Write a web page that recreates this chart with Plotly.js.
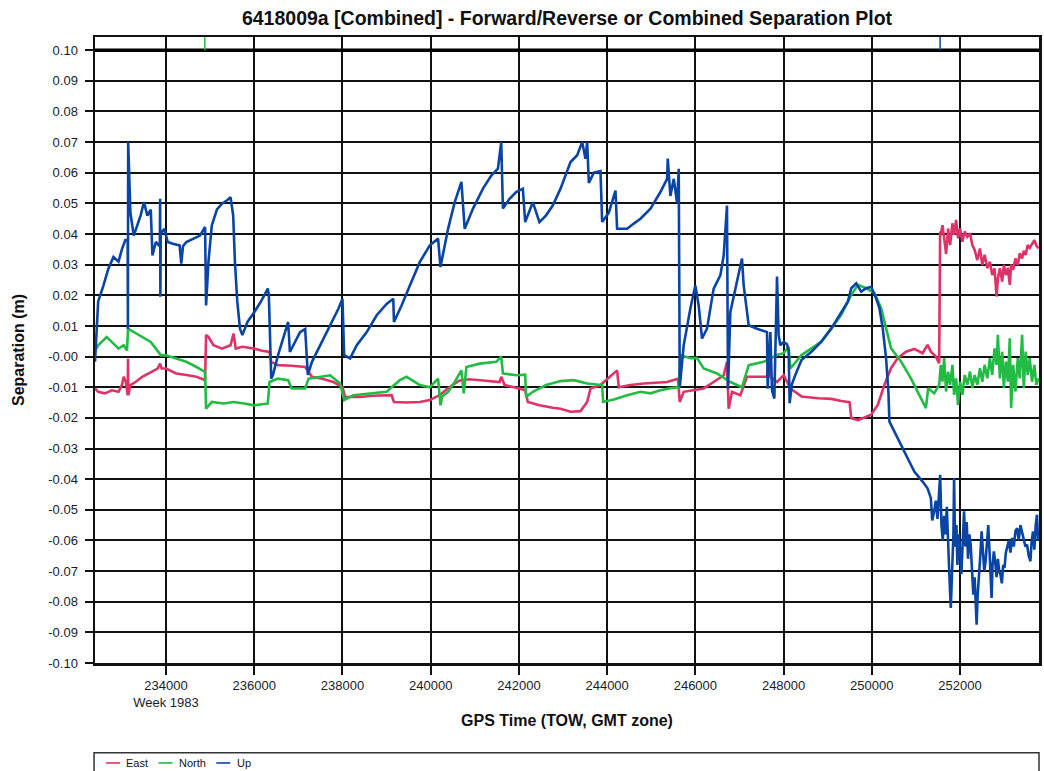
<!DOCTYPE html>
<html>
<head>
<meta charset="utf-8">
<script src="https://cdn.plot.ly/plotly-3.0.1.min.js"></script>
<style>
  html, body { margin: 0; padding: 0; background: #ffffff; }
  #chart { width: 1044px; height: 771px; }
</style>
</head>
<body>
<div id="chart"></div>
<script>
// Separation components [GPS time of week (s), separation (m)]
const eastSeries = [
  [232390,-0.0104],[232462,-0.0115],[232615,-0.0120],[232770,-0.0110],[232923,-0.0115],[233000,-0.0093],
  [233040,-0.0066],[233090,-0.0083],[233132,-0.0126],[233138,-0.0007],[233146,-0.0126],[233192,-0.0093],
  [233308,-0.0083],[233462,-0.0066],[233654,-0.0050],[233808,-0.0039],[233866,-0.0023],[233900,-0.0039],
  [234000,-0.0039],[234231,-0.0055],[234461,-0.0060],[234692,-0.0066],[234885,-0.0077],[234908,0.0070],
  [234962,0.0064],[235077,0.0037],[235269,0.0026],[235462,0.0037],[235531,0.0075],[235580,0.0026],
  [235731,0.0032],[236000,0.0026],[236154,0.0020],[236346,0.0015],[236385,-0.0017],[236538,-0.0028],
  [236846,-0.0030],[237154,-0.0034],[237308,-0.0066],[237538,-0.0072],[237797,-0.0083],[238000,-0.0100],
  [238060,-0.0132],[238400,-0.0132],[238700,-0.0128],[239114,-0.0126],[239167,-0.0148],[239453,-0.0150],
  [239755,-0.0148],[239980,-0.0142],[240200,-0.0126],[240420,-0.0100],[240659,-0.0078],[240880,-0.0074],
  [241185,-0.0078],[241560,-0.0083],[241599,-0.0066],[241675,-0.0093],[242013,-0.0104],[242142,-0.0110],
  [242202,-0.0148],[242465,-0.0159],[242766,-0.0167],[242943,-0.0170],[243170,-0.0180],[243396,-0.0178],
  [243547,-0.0148],[243623,-0.0104],[243849,-0.0093],[244075,-0.0066],[244226,-0.0045],[244264,-0.0100],
  [244528,-0.0093],[244830,-0.0088],[245132,-0.0085],[245359,-0.0083],[245608,-0.0072],[245646,-0.0148],
  [245736,-0.0115],[245963,-0.0110],[246189,-0.0104],[246415,-0.0083],[246642,-0.0061],[246717,-0.0017],
  [246755,-0.0170],[246830,-0.0115],[247019,-0.0126],[247170,-0.0066],[247397,-0.0066],[247624,-0.0066],
  [247661,-0.0017],[247700,-0.0066],[247851,-0.0083],[248002,-0.0061],[248153,-0.0104],[248406,-0.0130],
  [248782,-0.0136],[249083,-0.0138],[249308,-0.0145],[249496,-0.0149],[249534,-0.0201],[249684,-0.0207],
  [249835,-0.0199],[249985,-0.0190],[250135,-0.0158],[250286,-0.0092],[250436,-0.0038],[250587,-0.0005],
  [250775,0.0016],[250963,0.0025],[251151,0.0011],[251263,0.0038],[251339,0.0016],[251451,0.0000],
  [251527,-0.0022],[251549,0.0408],[251564,0.0400],[251602,0.0429],[251639,0.0385],[251684,0.0335],
  [251730,0.0418],[251775,0.0364],[251827,0.0435],[251865,0.0397],[251910,0.0446],[251955,0.0386],
  [252000,0.0418],[252053,0.0375],[252106,0.0408],[252166,0.0391],[252226,0.0402],[252279,0.0364],
  [252331,0.0348],[252391,0.0315],[252452,0.0353],[252504,0.0299],[252557,0.0332],[252617,0.0288],
  [252677,0.0310],[252730,0.0266],[252782,0.0288],[252828,0.0196],[252858,0.0255],[252903,0.0288],
  [252955,0.0245],[252993,0.0299],[253038,0.0266],[253083,0.0290],[253128,0.0234],[253158,0.0300],
  [253204,0.0283],[253256,0.0320],[253309,0.0299],[253354,0.0337],[253407,0.0320],[253444,0.0345],
  [253489,0.0332],[253534,0.0364],[253580,0.0355],[253632,0.0370],[253685,0.0380],[253730,0.0362],
  [253783,0.0353]
];

const northSeries = [
  [232390,0.0048],[232420,0.0026],[232462,0.0037],[232654,0.0064],[232770,0.0048],[232923,0.0026],
  [233040,0.0037],[233115,0.0020],[233139,0.0091],[233269,0.0080],[233462,0.0064],[233654,0.0048],
  [233769,0.0026],[233885,0.0004],[234000,0.0004],[234231,-0.0007],[234461,-0.0017],[234692,-0.0034],
  [234885,-0.0050],[234908,-0.0170],[235038,-0.0148],[235308,-0.0153],[235538,-0.0148],[235769,-0.0153],
  [236000,-0.0159],[236308,-0.0153],[236346,-0.0083],[236538,-0.0072],[236769,-0.0077],[236846,-0.0104],
  [237154,-0.0104],[237231,-0.0072],[237462,-0.0066],[237721,-0.0061],[237947,-0.0088],[238038,-0.0142],
  [238249,-0.0126],[238625,-0.0120],[239001,-0.0115],[239114,-0.0100],[239302,-0.0077],[239453,-0.0066],
  [239755,-0.0093],[239980,-0.0100],[240168,-0.0072],[240221,-0.0159],[240260,-0.0130],[240394,-0.0115],
  [240545,-0.0083],[240696,-0.0045],[240749,-0.0120],[240809,-0.0034],[241110,-0.0023],[241486,-0.0017],
  [241599,0.0000],[241637,-0.0055],[241938,-0.0061],[242142,-0.0059],[242164,-0.0132],[242315,-0.0115],
  [242616,-0.0093],[242943,-0.0080],[243245,-0.0077],[243547,-0.0088],[243887,-0.0093],[243909,-0.0148],
  [244151,-0.0140],[244453,-0.0126],[244755,-0.0115],[244982,-0.0120],[245208,-0.0110],[245434,-0.0103],
  [245623,-0.0100],[245661,0.0005],[245887,-0.0005],[246038,-0.0005],[246189,-0.0039],[246490,-0.0055],
  [246793,-0.0083],[247057,-0.0100],[247209,-0.0028],[247548,-0.0017],[247851,0.0005],[248002,0.0011],
  [248115,0.0032],[248153,-0.0039],[248406,0.0005],[248631,0.0027],[248857,0.0049],[249083,0.0092],
  [249308,0.0136],[249534,0.0201],[249684,0.0234],[249872,0.0223],[250060,0.0207],[250211,0.0158],
  [250323,0.0092],[250436,0.0027],[250662,-0.0016],[250887,-0.0071],[251075,-0.0125],[251226,-0.0168],
  [251278,-0.0103],[251414,-0.0120],[251527,-0.0092],[251564,-0.0027],[251602,-0.0082],[251639,-0.0005],
  [251684,-0.0114],[251730,-0.0049],[251775,-0.0092],[251827,-0.0027],[251865,-0.0125],[251910,-0.0071],
  [251955,-0.0158],[252000,-0.0082],[252053,-0.0125],[252106,-0.0060],[252166,-0.0092],[252226,-0.0049],
  [252279,-0.0103],[252331,-0.0060],[252391,-0.0092],[252452,-0.0038],[252504,-0.0082],[252557,-0.0027],
  [252617,-0.0071],[252677,-0.0005],[252730,-0.0060],[252782,0.0027],[252828,-0.0027],[252858,0.0071],
  [252903,-0.0071],[252955,0.0016],[252993,-0.0103],[253038,-0.0016],[253083,-0.0082],[253128,0.0060],
  [253158,-0.0168],[253204,-0.0027],[253256,-0.0114],[253309,-0.0005],[253354,-0.0071],[253407,0.0071],
  [253444,-0.0103],[253489,0.0016],[253534,-0.0060],[253580,-0.0005],[253632,-0.0082],[253685,-0.0027],
  [253730,-0.0092],[253783,-0.0071]
];

const upSeries = [
  [232390,-0.0017],[232420,0.0070],[232462,0.0180],[232577,0.0230],[232693,0.0287],[232808,0.0325],
  [232923,0.0310],[233000,0.0350],[233077,0.0380],[233130,0.0380],[233136,0.0090],[233142,0.0700],
  [233192,0.0470],[233269,0.0395],[233346,0.0428],[233423,0.0460],[233500,0.0504],[233577,0.0460],
  [233654,0.0480],[233692,0.0330],[233769,0.0374],[233860,0.0360],[233866,0.0515],[233872,0.0195],
  [233880,0.0400],[233962,0.0417],[234038,0.0374],[234154,0.0368],[234308,0.0363],[234346,0.0303],
  [234385,0.0360],[234461,0.0374],[234615,0.0385],[234769,0.0395],[234885,0.0423],[234908,0.0167],
  [234962,0.0310],[235038,0.0428],[235154,0.0480],[235269,0.0499],[235385,0.0510],[235462,0.0520],
  [235523,0.0460],[235562,0.0310],[235615,0.0180],[235677,0.0091],[235731,0.0070],[235846,0.0113],
  [236000,0.0145],[236154,0.0180],[236308,0.0222],[236331,0.0200],[236385,-0.0072],[236423,-0.0060],
  [236538,0.0004],[236654,0.0059],[236769,0.0113],[236808,0.0015],[236923,0.0048],[237038,0.0080],
  [237154,0.0090],[237215,-0.0060],[237308,-0.0017],[237538,0.0048],[237721,0.0102],[237910,0.0157],
  [238000,0.0189],[238038,0.0005],[238173,-0.0006],[238324,0.0037],[238550,0.0080],[238776,0.0135],
  [239001,0.0172],[239152,0.0189],[239167,0.0113],[239340,0.0167],[239528,0.0232],[239755,0.0309],
  [239980,0.0363],[240168,0.0385],[240221,0.0292],[240394,0.0417],[240545,0.0504],[240696,0.0570],
  [240771,0.0417],[240959,0.0483],[241185,0.0548],[241373,0.0591],[241524,0.0613],[241599,0.0700],
  [241637,0.0483],[241787,0.0515],[241938,0.0537],[242089,0.0548],[242142,0.0439],[242315,0.0504],
  [242465,0.0439],[242616,0.0461],[242766,0.0493],[242943,0.0548],[243170,0.0635],[243321,0.0657],
  [243434,0.0700],[243509,0.0646],[243547,0.0700],[243585,0.0567],[243698,0.0600],[243849,0.0605],
  [243887,0.0439],[244038,0.0470],[244189,0.0542],[244226,0.0417],[244340,0.0417],[244453,0.0417],
  [244604,0.0434],[244755,0.0450],[244982,0.0483],[245208,0.0537],[245359,0.0580],[245374,0.0646],
  [245434,0.0524],[245510,0.0580],[245585,0.0502],[245623,0.0613],[245646,-0.0100],[245736,0.0037],
  [245887,0.0157],[245999,0.0232],[246075,0.0167],[246151,0.0059],[246264,0.0091],[246415,0.0222],
  [246566,0.0265],[246642,0.0330],[246717,0.0493],[246740,-0.0105],[246793,0.0146],[246906,0.0222],
  [247057,0.0320],[247095,0.0232],[247209,0.0102],[247398,0.0091],[247624,0.0080],[247639,-0.0105],
  [247700,0.0080],[247737,-0.0110],[247790,-0.0137],[247851,0.0261],[247888,0.0070],[247926,0.0037],
  [248002,0.0048],[248077,0.0040],[248115,0.0020],[248137,-0.0152],[248190,-0.0090],[248266,-0.0060],
  [248379,-0.0017],[248406,-0.0011],[248631,0.0016],[248857,0.0049],[249083,0.0092],[249308,0.0147],
  [249459,0.0180],[249534,0.0223],[249647,0.0239],[249759,0.0212],[249872,0.0223],[249985,0.0228],
  [250098,0.0190],[250173,0.0158],[250248,0.0092],[250323,-0.0005],[250376,-0.0114],[250399,-0.0212],
  [250511,-0.0245],[250662,-0.0288],[250812,-0.0332],[250963,-0.0375],[251151,-0.0408],[251263,-0.0430],
  [251339,-0.0462],[251370,-0.0535],[251414,-0.0505],[251451,-0.0470],[251489,-0.0530],[251519,-0.0450],
  [251549,-0.0386],[251579,-0.0550],[251609,-0.0600],[251639,-0.0520],[251669,-0.0580],[251700,-0.0490],
  [251730,-0.0650],[251760,-0.0720],[251790,-0.0820],[251820,-0.0660],[251850,-0.0580],[251865,-0.0397],
  [251888,-0.0620],[251918,-0.0550],[251940,-0.0680],[251970,-0.0580],[252000,-0.0630],[252030,-0.0710],
  [252060,-0.0600],[252091,-0.0505],[252121,-0.0620],[252151,-0.0540],[252181,-0.0660],[252211,-0.0580],
  [252241,-0.0614],[252271,-0.0700],[252301,-0.0777],[252331,-0.0720],[252361,-0.0820],[252376,-0.0875],
  [252399,-0.0780],[252429,-0.0723],[252459,-0.0650],[252489,-0.0570],[252519,-0.0630],[252549,-0.0700],
  [252579,-0.0668],[252609,-0.0600],[252640,-0.0550],[252670,-0.0640],[252700,-0.0740],[252715,-0.0788],
  [252737,-0.0680],[252767,-0.0636],[252797,-0.0670],[252828,-0.0720],[252858,-0.0660],[252888,-0.0700],
  [252918,-0.0712],[252948,-0.0740],[252978,-0.0680],[253008,-0.0690],[253038,-0.0640],[253068,-0.0625],
  [253106,-0.0600],[253143,-0.0640],[253181,-0.0592],[253219,-0.0620],[253256,-0.0570],[253294,-0.0560],
  [253331,-0.0600],[253369,-0.0550],[253407,-0.0571],[253444,-0.0600],[253482,-0.0620],[253519,-0.0614],
  [253557,-0.0650],[253595,-0.0668],[253625,-0.0600],[253655,-0.0571],[253685,-0.0630],[253715,-0.0550],
  [253745,-0.0516],[253768,-0.0600],[253783,-0.0592]
];

// Event markers shown in the strip above the 0.10 line
const eventTimes = [234880, 251548];
const eventColors = ['#22bb44', '#0a45a5'];

// Axis ticks
const xTickVals = [234000, 236000, 238000, 240000, 242000, 244000, 246000, 248000, 250000, 252000];
const xTickText = ['234000<br>Week 1983', '236000', '238000', '240000', '242000', '244000', '246000', '248000', '250000', '252000'];
const yTickVals = [0.10, 0.09, 0.08, 0.07, 0.06, 0.05, 0.04, 0.03, 0.02, 0.01, 0.00,
                   -0.01, -0.02, -0.03, -0.04, -0.05, -0.06, -0.07, -0.08, -0.09, -0.10];
const yTickText = ['0.10', '0.09', '0.08', '0.07', '0.06', '0.05', '0.04', '0.03', '0.02', '0.01', '-0.00',
                   '-0.01', '-0.02', '-0.03', '-0.04', '-0.05', '-0.06', '-0.07', '-0.08', '-0.09', '-0.10'];

// Series names and colours, also used for the key strip under the chart
const seriesNames = ['East', 'North', 'Up'];
const seriesColors = ['#dd3366', '#22bb44', '#0a45a5'];
// left edge of each key entry, as a fraction of the plot width
const keyOffsets = [0.0117, 0.0673, 0.1285];

const FONT = 'Liberation Sans, Arial, Helvetica, sans-serif';
const INK = '#111111';

function lineTrace(series, name, color) {
  return {
    type: 'scatter',
    mode: 'lines',
    name: name,
    x: series.map(p => p[0]),
    y: series.map(p => p[1]),
    line: { color: color, width: 2.6 },
    showlegend: false,
    hoverinfo: 'skip'
  };
}

const traces = [
  lineTrace(eastSeries, seriesNames[0], seriesColors[0]),
  lineTrace(northSeries, seriesNames[1], seriesColors[1]),
  lineTrace(upSeries, seriesNames[2], seriesColors[2])
];

const KEY_Y = -0.1597;     // vertical centre of the key entries (paper units)
const KEY_SAMPLE = 0.0148; // length of each key line sample (paper units)

const shapes = [
  // heavy reference line at +0.10
  { type: 'line', xref: 'paper', yref: 'y', x0: 0, x1: 1, y0: 0.10, y1: 0.10,
    line: { color: '#000000', width: 3.5 } },
  // key frame
  { type: 'rect', xref: 'paper', yref: 'paper', x0: -0.001, x1: 1, y0: -0.26, y1: -0.1435,
    line: { color: '#333333', width: 1.5 }, fillcolor: 'rgba(0,0,0,0)' }
];
eventTimes.forEach((t, i) => {
  shapes.push({ type: 'line', xref: 'x', yref: 'paper', x0: t, x1: t, y0: 0.979, y1: 1,
    line: { color: eventColors[i], width: 1.5 } });
});

const annotations = [];
seriesNames.forEach((name, i) => {
  const x0 = keyOffsets[i];
  shapes.push({ type: 'line', xref: 'paper', yref: 'paper', x0: x0, x1: x0 + KEY_SAMPLE,
    y0: KEY_Y, y1: KEY_Y, line: { color: seriesColors[i], width: 1.6 } });
  annotations.push({ xref: 'paper', yref: 'paper', x: x0 + KEY_SAMPLE + 0.0045, y: KEY_Y,
    xanchor: 'left', yanchor: 'middle', showarrow: false, text: name,
    font: { family: FONT, size: 11, color: INK } });
});

const layout = {
  width: 1044,
  height: 771,
  margin: { l: 95, r: 5, t: 37, b: 108, autoexpand: false },
  paper_bgcolor: '#ffffff',
  plot_bgcolor: '#ffffff',
  font: { family: FONT, color: INK },
  title: {
    text: '<b>6418009a [Combined] - Forward/Reverse or Combined Separation Plot</b>',
    font: { family: FONT, size: 19.5, color: INK },
    xref: 'paper', x: 0.5, xanchor: 'center',
    yref: 'container', y: 1 - 18 / 771, yanchor: 'middle'
  },
  xaxis: {
    range: [232390, 253790],
    tickmode: 'array',
    tickvals: xTickVals,
    ticktext: xTickText,
    ticks: 'outside', ticklen: 9, tickwidth: 2, tickcolor: INK,
    tickfont: { family: FONT, size: 13, color: '#1a1a2a' },
    showgrid: true, gridcolor: INK, gridwidth: 2,
    showline: true, linecolor: INK, linewidth: 2.5, mirror: true,
    zeroline: false,
    title: { text: '<b>GPS Time (TOW, GMT zone)</b>', font: { family: FONT, size: 16, color: INK }, standoff: 6 }
  },
  yaxis: {
    range: [-0.10, 0.1043],
    tickmode: 'array',
    tickvals: yTickVals,
    ticktext: yTickText,
    ticks: 'outside', ticklen: 8, tickwidth: 2, tickcolor: INK,
    ticklabelstandoff: 4,
    tickfont: { family: FONT, size: 13, color: '#1a1a2a' },
    showgrid: true, gridcolor: INK, gridwidth: 2,
    showline: true, linecolor: INK, linewidth: 2.5, mirror: true,
    zeroline: false,
    title: { text: '<b>Separation (m)</b>', font: { family: FONT, size: 16, color: INK }, standoff: 20 }
  },
  showlegend: false,
  shapes: shapes,
  annotations: annotations
};

Plotly.newPlot('chart', traces, layout, { staticPlot: true, displayModeBar: false });
</script>
</body>
</html>
